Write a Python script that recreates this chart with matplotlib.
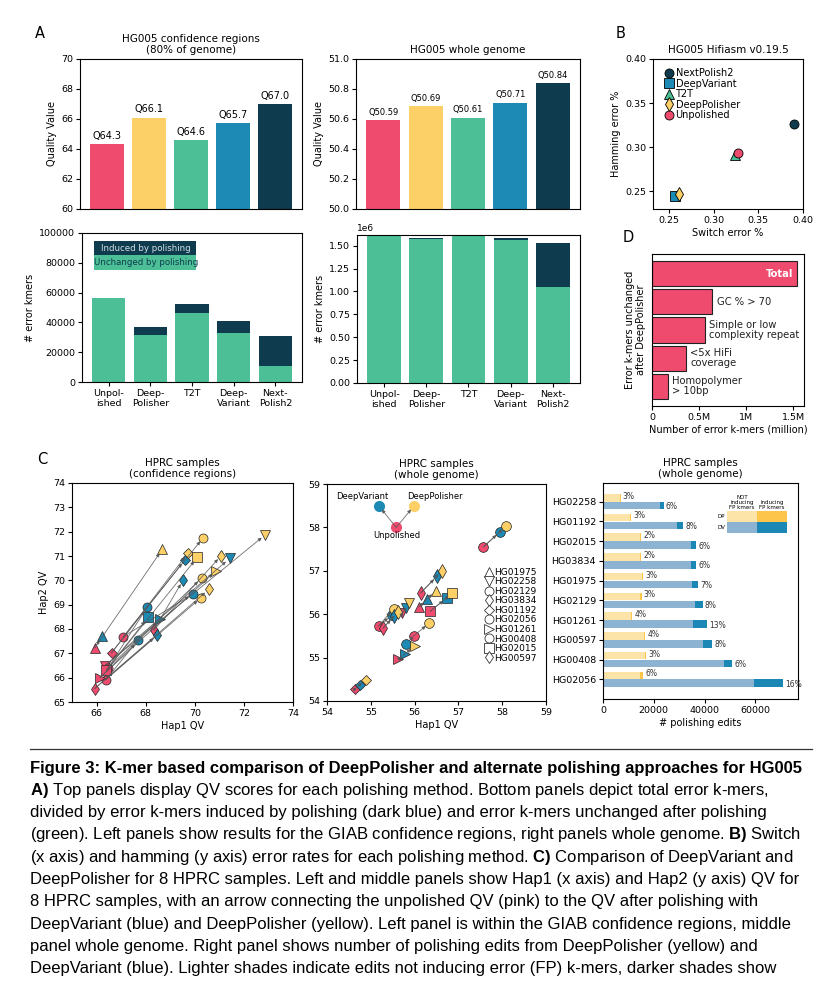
import numpy as np
import matplotlib.pyplot as plt
from matplotlib.lines import Line2D
from matplotlib.patches import Rectangle

plt.rcParams['mathtext.fontset'] = 'custom'
plt.rcParams['mathtext.rm'] = 'Liberation Sans'
plt.rcParams['mathtext.bf'] = 'Liberation Sans:bold'

W, H = 836, 1000

PINK = '#EE4B6F'
YELLOW = '#FDD067'
GREEN = '#4CBF97'
BLUE = '#1C8AB4'
DARK = '#0E3B4D'

# ---- panel A data
methods = ['Unpolished', 'DeepPolisher', 'T2T', 'DeepVariant', 'NextPolish2']
method_ticks = ['Unpol-\nished', 'Deep-\nPolisher', 'T2T', 'Deep-\nVariant', 'Next-\nPolish2']
method_colors = [PINK, YELLOW, GREEN, BLUE, DARK]
qv_conf = [64.3, 66.1, 64.6, 65.7, 67.0]
qv_whole = [50.59, 50.69, 50.61, 50.71, 50.84]
kmer_conf_unchanged = [56200, 31300, 46300, 32700, 10700]
kmer_conf_induced = [0, 5400, 5800, 8000, 19900]
kmer_whole_unchanged = [1.616e6, 1.570e6, 1.603e6, 1.563e6, 1.053e6]
kmer_whole_induced = [0, 16000, 5000, 15000, 476000]

# ---- panel B data
b_methods = ['NextPolish2', 'DeepVariant', 'T2T', 'DeepPolisher', 'Unpolished']
b_switch = [0.390, 0.257, 0.324, 0.261, 0.327]
b_hamming = [0.326, 0.245, 0.291, 0.247, 0.294]
b_markers = ['o', 's', '^', 'd', 'o']
b_colors = [DARK, BLUE, GREEN, YELLOW, PINK]

# ---- panel D data
d_cats = ['Total', 'GC % > 70', 'Simple or low\ncomplexity repeat', '<5x HiFi\ncoverage', 'Homopolymer\n> 10bp']
d_vals = [1.538, 0.639, 0.558, 0.358, 0.165]

# ---- panel C data (Hap1 QV, Hap2 QV)
hprc_samples = ['HG01975', 'HG02258', 'HG02129', 'HG03834', 'HG01192',
                'HG02056', 'HG01261', 'HG00408', 'HG02015', 'HG00597']
hprc_markers = ['^', 'v', 'o', 'd', 'D', 'o', '>', 'o', 's', 'd']
conf_unpol = [(65.93, 67.23), (66.35, 66.50), (66.38, 65.92), (68.33, 67.96), (66.61, 67.02),
              (67.08, 67.68), (66.14, 66.00), (66.47, 66.40), (66.40, 66.30), (65.92, 65.55)]
conf_dv = [(66.23, 67.71), (71.42, 70.90), (67.68, 67.53), (69.53, 70.02), (69.60, 70.85),
           (69.93, 69.44), (68.60, 68.40), (68.06, 68.89), (68.09, 68.48), (68.47, 67.75)]
conf_dp = [(68.68, 71.28), (72.88, 71.88), (70.26, 69.29), (71.08, 71.02), (69.72, 71.12),
           (70.35, 71.76), (70.87, 70.40), (70.28, 70.09), (70.10, 70.94), (70.57, 69.63)]
whole_unpol = [(56.10, 56.17), (55.72, 56.02), (55.98, 55.50), (56.14, 56.49), (54.63, 54.27),
               (57.57, 57.55), (55.63, 54.96), (55.18, 55.73), (56.36, 56.07), (55.28, 55.68)]
whole_dv = [(56.29, 56.34), (55.80, 56.14), (55.81, 55.31), (56.52, 56.88), (54.76, 54.38),
            (57.95, 57.90), (55.79, 55.08), (55.48, 55.98), (56.74, 56.38), (55.53, 55.95)]
whole_dp = [(56.48, 56.54), (55.88, 56.25), (56.34, 55.80), (56.62, 57.00), (54.88, 54.49),
            (58.09, 58.03), (56.00, 55.27), (55.52, 56.13), (56.86, 56.49), (55.61, 56.05)]

edit_samples = ['HG02258', 'HG01192', 'HG02015', 'HG03834', 'HG01975',
                'HG02129', 'HG01261', 'HG00597', 'HG00408', 'HG02056']
dp_edits = [6900, 10900, 15000, 14900, 15700, 15200, 11600, 16700, 17100, 15700]
dp_fp_pct = [3, 3, 2, 2, 3, 3, 4, 4, 3, 6]
dv_edits = [23900, 31500, 36800, 36800, 37600, 39200, 40900, 42900, 50800, 70800]
dv_fp_pct = [6, 8, 6, 6, 7, 8, 13, 8, 6, 16]

caption = [
    'Figure 3: K-mer based comparison of DeepPolisher and alternate polishing approaches for HG005',
    r'$\mathbf{A)}$ Top panels display QV scores for each polishing method. Bottom panels depict total error k-mers,',
    'divided by error k-mers induced by polishing (dark blue) and error k-mers unchanged after polishing',
    r'(green). Left panels show results for the GIAB confidence regions, right panels whole genome. $\mathbf{B)}$ Switch',
    r'(x axis) and hamming (y axis) error rates for each polishing method. $\mathbf{C)}$ Comparison of DeepVariant and',
    'DeepPolisher for 8 HPRC samples. Left and middle panels show Hap1 (x axis) and Hap2 (y axis) QV for',
    '8 HPRC samples, with an arrow connecting the unpolished QV (pink) to the QV after polishing with',
    'DeepVariant (blue) and DeepPolisher (yellow). Left panel is within the GIAB confidence regions, middle',
    'panel whole genome. Right panel shows number of polishing edits from DeepPolisher (yellow) and',
    'DeepVariant (blue). Lighter shades indicate edits not inducing error (FP) k-mers, darker shades show',
]

fig = plt.figure(figsize=(W / 100, H / 100), dpi=100)


def add_ax(l, t, r, b):
    return fig.add_axes([l / W, 1 - b / H, (r - l) / W, (b - t) / H])


def style(ax, size=6.8):
    ax.tick_params(labelsize=size, length=3, width=0.8, pad=2)


# ---- A top left
ax = add_ax(80, 59, 302, 209)
x = np.arange(len(methods))
ax.bar(x, qv_conf, color=method_colors, width=0.8)
ax.set_ylim(60, 70)
ax.set_xticks([])
for xi, v in zip(x, qv_conf):
    ax.text(xi, v + 0.2, f'Q{v:.1f}', ha='center', va='bottom', fontsize=7)
ax.set_ylabel('Quality Value', fontsize=7, labelpad=3)
ax.set_title('HG005 confidence regions\n(80% of genome)', fontsize=7.5, pad=4)
style(ax)

# ---- A top right
ax = add_ax(356, 59, 580, 209)
ax.bar(x, qv_whole, color=method_colors, width=0.8)
ax.set_ylim(50, 51)
ax.set_xticks([])
for xi, v in zip(x, qv_whole):
    ax.text(xi, v + 0.02, f'Q{v:.2f}', ha='center', va='bottom', fontsize=6)
ax.set_ylabel('Quality Value', fontsize=7, labelpad=3)
ax.set_title('HG005 whole genome', fontsize=7.5, pad=4)
style(ax)

# ---- A bottom left
ax = add_ax(82, 233, 302, 382)
ax.bar(x, kmer_conf_unchanged, color=GREEN, width=0.8)
ax.bar(x, kmer_conf_induced, bottom=kmer_conf_unchanged, color=DARK, width=0.8)
ax.set_ylim(0, 100000)
ax.set_xticks(x)
ax.set_xticklabels(method_ticks, fontsize=7)
ax.set_ylabel('# error kmers', fontsize=7, labelpad=3)
ax.add_patch(Rectangle((0.055, 0.852), 0.465, 0.094, transform=ax.transAxes, color=DARK, lw=0))
ax.add_patch(Rectangle((0.055, 0.752), 0.465, 0.100, transform=ax.transAxes, color=GREEN, lw=0))
ax.text(0.29, 0.899, 'Induced by polishing', transform=ax.transAxes, ha='center', va='center',
        fontsize=6.2, color='#d5e2e8')
ax.text(0.29, 0.802, 'Unchanged by polishing', transform=ax.transAxes, ha='center', va='center',
        fontsize=6.2, color=DARK)
style(ax)

# ---- A bottom right
ax = add_ax(357, 235, 580, 383)
ax.bar(x, kmer_whole_unchanged, color=GREEN, width=0.8)
ax.bar(x, kmer_whole_induced, bottom=kmer_whole_unchanged, color=DARK, width=0.8)
ax.set_yticks(np.arange(0, 1.51e6, 0.25e6))
ax.set_xticks(x)
ax.set_xticklabels(method_ticks, fontsize=7)
ax.set_ylabel('# error kmers', fontsize=7, labelpad=3)
style(ax)
ax.yaxis.get_offset_text().set_fontsize(6.5)

# ---- B
ax = add_ax(653, 59, 803, 209)
for name, sx, hy, m, c in zip(b_methods, b_switch, b_hamming, b_markers, b_colors):
    ax.plot(sx, hy, marker=m, color=c, mec='black', mew=0.6, ms=6.5 if m != 'd' else 7.5,
            ls='none', label=name)
ax.set_xlim(0.232, 0.40)
ax.set_ylim(0.230, 0.40)
ax.set_xticks([0.25, 0.30, 0.35, 0.40])
ax.set_yticks([0.25, 0.30, 0.35, 0.40])
ax.set_title('HG005 Hifiasm v0.19.5', fontsize=7.5, pad=4)
ax.set_xlabel('Switch error %', fontsize=7, labelpad=2)
ax.set_ylabel('Hamming error %', fontsize=7, labelpad=3)
ax.legend(loc='upper left', bbox_to_anchor=(0.04, 0.97), frameon=False, fontsize=7,
          handletextpad=0.2, labelspacing=0.05, borderpad=0, handlelength=1.0)
style(ax)

# ---- D
ax = add_ax(652, 254, 804, 406)
yd = np.arange(len(d_cats))
ax.barh(yd, d_vals, height=0.9, color=PINK, edgecolor='#222222', lw=0.8)
ax.invert_yaxis()
ax.set_yticks([])
ax.set_xticks([0, 0.5, 1.0, 1.5])
ax.set_xticklabels(['0', '0.5M', '1M', '1.5M'])
for yi, (cat, v) in enumerate(zip(d_cats, d_vals)):
    if yi == 0:
        ax.text(v - 0.04, yi, cat, ha='right', va='center', fontsize=7.2,
                color='white', fontweight='bold')
    else:
        ax.text(v + 0.05, yi, cat, ha='left', va='center', fontsize=7.2, color='#222222',
                linespacing=1.0)
ax.set_xlabel('Number of error k-mers (million)', fontsize=7, labelpad=2)
ax.set_ylabel('Error k-mers unchanged\nafter DeepPolisher', fontsize=7, labelpad=4)
style(ax)


# ---- C scatter panels
def arrow(ax, start, end):
    ax.annotate('', xy=end, xytext=start,
                arrowprops=dict(arrowstyle='-|>', color='#555555', lw=0.6, alpha=0.85,
                                mutation_scale=5, shrinkA=0, shrinkB=3.5), zorder=3)


def hprc_panel(ax, unpol, dv, dp, ms):
    for m, u, v, p in zip(hprc_markers, unpol, dv, dp):
        size = ms * 0.8 if m == 'D' else ms
        ax.plot(*u, marker=m, color=PINK, mec='#222222', mew=0.5, ms=size, ls='none', zorder=2)
        ax.plot(*v, marker=m, color=BLUE, mec='#222222', mew=0.5, ms=size, ls='none', zorder=2)
        ax.plot(*p, marker=m, color=YELLOW, mec='#222222', mew=0.5, ms=size, ls='none', zorder=2)
        arrow(ax, u, v)
        arrow(ax, u, p)


ax = add_ax(72, 483, 293, 702)
hprc_panel(ax, conf_unpol, conf_dv, conf_dp, 6.5)
ax.set_xlim(65, 74)
ax.set_ylim(65, 74)
ax.set_xticks([66, 68, 70, 72, 74])
ax.set_yticks(np.arange(65, 75))
ax.set_title('HPRC samples\n(confidence regions)', fontsize=7.5, pad=4)
ax.set_xlabel('Hap1 QV', fontsize=7, labelpad=2)
ax.set_ylabel('Hap2 QV', fontsize=7, labelpad=3)
style(ax)

ax = add_ax(327, 484, 546, 701)
hprc_panel(ax, whole_unpol, whole_dv, whole_dp, 7)
ax.set_xlim(54, 59)
ax.set_ylim(54, 59)
ax.set_xticks(np.arange(54, 60))
ax.set_yticks(np.arange(54, 60))
# key in the upper left corner
key_pts = {'DeepVariant': (55.18, 58.5), 'DeepPolisher': (55.99, 58.5), 'Unpolished': (55.58, 58.0)}
ax.plot(*key_pts['Unpolished'], 'o', color=PINK, ms=7, zorder=2)
ax.plot(*key_pts['DeepVariant'], 'o', color=BLUE, ms=7, zorder=2)
ax.plot(*key_pts['DeepPolisher'], 'o', color=YELLOW, ms=7, zorder=2)
arrow(ax, key_pts['Unpolished'], key_pts['DeepVariant'])
arrow(ax, key_pts['Unpolished'], key_pts['DeepPolisher'])
ax.text(54.8, 58.71, 'DeepVariant', ha='center', va='center', fontsize=6)
ax.text(56.47, 58.71, 'DeepPolisher', ha='center', va='center', fontsize=6)
ax.text(55.6, 57.81, 'Unpolished', ha='center', va='center', fontsize=6)
handles = [Line2D([], [], marker=m, color='none', mfc='white', mec='#333333', mew=0.6,
                  ms=6.5 if m != 'D' else 5.2) for m in hprc_markers]
ax.legend(handles, hprc_samples, loc='upper left', bbox_to_anchor=(0.70, 0.635), frameon=False,
          fontsize=6.5, handletextpad=0.0, labelspacing=0.06, borderpad=0, handlelength=1.0)
ax.set_title('HPRC samples\n(whole genome)', fontsize=7.5, pad=4)
ax.set_xlabel('Hap1 QV', fontsize=7, labelpad=2)
style(ax)

# ---- C right: polishing edits
DP_LIGHT, DP_DARK = '#FCE3A7', '#FDC54A'
DV_LIGHT, DV_DARK = '#8DB3D3', '#1B87B5'
ax = add_ax(603, 483, 798, 699)
ye = np.arange(len(edit_samples))
dp_fp = np.array(dp_edits) * np.array(dp_fp_pct) / 100
dv_fp = np.array(dv_edits) * np.array(dv_fp_pct) / 100
dp_ok = np.array(dp_edits) - dp_fp
dv_ok = np.array(dv_edits) - dv_fp
bh = 0.38
ax.barh(ye - 0.2, dp_ok, height=bh, color=DP_LIGHT)
ax.barh(ye - 0.2, dp_fp, left=dp_ok, height=bh, color=DP_DARK)
ax.barh(ye + 0.2, dv_ok, height=bh, color=DV_LIGHT)
ax.barh(ye + 0.2, dv_fp, left=dv_ok, height=bh, color=DV_DARK)
for yi in ye:
    ax.text(dp_edits[yi] + 900, yi - 0.28, f'{dp_fp_pct[yi]}%', fontsize=5.5, va='center', color='#333333')
    ax.text(dv_edits[yi] + 900, yi + 0.25, f'{dv_fp_pct[yi]}%', fontsize=5.5, va='center', color='#333333')
ax.set_ylim(10.0, -0.95)
ax.set_xlim(0, 76800)
ax.set_yticks(ye)
ax.set_yticklabels(edit_samples)
ax.set_xticks([0, 20000, 40000, 60000])
ax.set_title('HPRC samples\n(whole genome)', fontsize=7.5, pad=4)
ax.set_xlabel('# polishing edits', fontsize=7, labelpad=2)
style(ax)
# colour key
kx0, kx1, kx2 = 0.636, 0.790, 0.944
for row, (light, dark) in enumerate([(DP_LIGHT, DP_DARK), (DV_LIGHT, DV_DARK)]):
    y0 = 0.82 - row * 0.05
    ax.add_patch(Rectangle((kx0, y0), kx1 - kx0, 0.05, transform=ax.transAxes, color=light, lw=0))
    ax.add_patch(Rectangle((kx1, y0), kx2 - kx1, 0.05, transform=ax.transAxes, color=dark, lw=0))
ax.text(kx0 - 0.01, 0.845, 'DP', transform=ax.transAxes, ha='right', va='center', fontsize=4)
ax.text(kx0 - 0.01, 0.795, 'DV', transform=ax.transAxes, ha='right', va='center', fontsize=4)
ax.text((kx0 + kx1) / 2, 0.875, 'NOT\ninducing\nFP kmers', transform=ax.transAxes,
        ha='center', va='bottom', fontsize=4, linespacing=1.0)
ax.text((kx1 + kx2) / 2, 0.875, 'inducing\nFP kmers', transform=ax.transAxes,
        ha='center', va='bottom', fontsize=4, linespacing=1.0)

# ---- panel letters
for letter, (px, py) in {'A': (40, 34), 'B': (621, 34), 'C': (42, 459), 'D': (628, 237)}.items():
    fig.text(px / W, 1 - py / H, letter, fontsize=10.5, ha='center', va='center')

# ---- caption
fig.add_artist(Line2D([30 / W, 812 / W], [1 - 749 / H] * 2, color='#333333', lw=0.9))
for i, line in enumerate(caption):
    fig.text(30 / W, 1 - (768 + 22.3 * i) / H, line, fontsize=12, family='Liberation Sans',
             fontweight='bold' if i == 0 else 'normal', ha='left', va='center')

fig.savefig('out.png', dpi=100)
